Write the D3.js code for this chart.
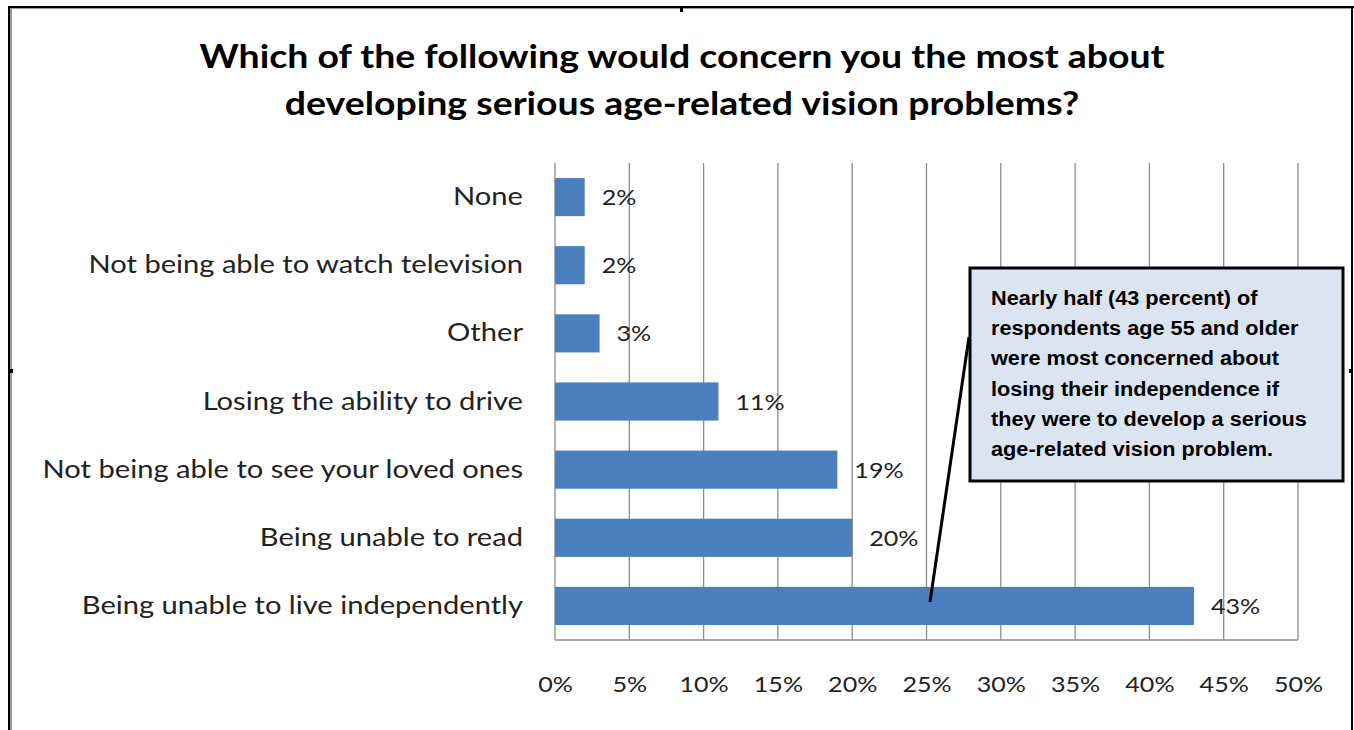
<!DOCTYPE html>
<html><head><meta charset="utf-8">
<script src="https://cdn.jsdelivr.net/npm/d3@7"></script>
<style>body{margin:0;background:#fff;}svg{display:block;}</style>
</head><body>
<script>
const categories = ["None","Not being able to watch television","Other","Losing the ability to drive","Not being able to see your loved ones","Being unable to read","Being unable to live independently"];
const values = [2,2,3,11,19,20,43];
const tickValues = [0,5,10,15,20,25,30,35,40,45,50];
const titleLines = ["Which of the following would concern you the most about","developing serious age-related vision problems?"];
const noteLines = ["Nearly half (43 percent) of","respondents age 55 and older","were most concerned about","losing their independence if","they were to develop a serious","age-related vision problem."];

const W=1354,H=730;
const svg=d3.select("body").append("svg").attr("width",W).attr("height",H);
const font="Lato, 'Open Sans', sans-serif";
const SX=1.165;

// stretch text horizontally around its anchor point
function stretch(sel, sx){
  sel.each(function(){
    const t=d3.select(this);
    const x=+t.attr("x")||0, y=+t.attr("y")||0;
    const prev=t.attr("transform")||"";
    t.attr("x",0).attr("y",0).attr("transform",prev+` translate(${x},${y}) scale(${sx},1)`);
  });
}

// frame
svg.append("rect").attr("x",11).attr("y",8).attr("width",W-2).attr("height",H).attr("fill","none").attr("stroke","#999").attr("stroke-width",2);
svg.append("line").attr("x1",9).attr("x2",9).attr("y1",7).attr("y2",H).attr("stroke","#000").attr("stroke-width",2);
svg.append("line").attr("x1",8).attr("x2",1354).attr("y1",7).attr("y2",7).attr("stroke","#000").attr("stroke-width",2);
svg.append("line").attr("x1",1352).attr("x2",1352).attr("y1",7).attr("y2",H).attr("stroke","#000").attr("stroke-width",2);
svg.append("rect").attr("x",680).attr("y",7).attr("width",3).attr("height",5).attr("fill","#000");
svg.append("rect").attr("x",9).attr("y",369).attr("width",4).attr("height",4).attr("fill","#000");
svg.append("rect").attr("x",1349).attr("y",369).attr("width",4).attr("height",4).attr("fill","#000");

// title
svg.append("g").selectAll("text").data(titleLines).join("text")
  .attr("x",682).attr("y",(d,i)=>68+i*47).attr("text-anchor","middle")
  .attr("font-family",font).attr("font-weight","bold").attr("font-size",32).attr("fill","#000").text(d=>d)
  .call(stretch,1.17);

const x=d3.scaleLinear().domain([0,50]).range([555,1298]);
const y=d3.scaleBand().domain(categories).range([163,640]).paddingInner(0.44).paddingOuter(0.22);

// gridlines
svg.append("g").selectAll("line").data(tickValues).join("line")
  .attr("x1",d=>x(d)).attr("x2",d=>x(d)).attr("y1",163).attr("y2",640)
  .attr("stroke","#8c8c8c").attr("stroke-width",1.3);
svg.append("line").attr("x1",x(0)).attr("x2",x(50)).attr("y1",640).attr("y2",640).attr("stroke","#8c8c8c").attr("stroke-width",1.5);

// x axis labels
const xa=svg.append("g").attr("transform","translate(0,640)")
  .call(d3.axisBottom(x).tickValues(tickValues).tickFormat(d=>d+"%").tickSize(0).tickPadding(36));
xa.select(".domain").remove();
xa.selectAll("text").attr("font-family",font).attr("font-size",22).attr("fill","#222").call(stretch,1.14);

// bars
svg.append("g").selectAll("rect").data(values).join("rect")
  .attr("x",x(0)).attr("y",(d,i)=>y(categories[i])).attr("width",d=>x(d)-x(0)).attr("height",y.bandwidth())
  .attr("fill","#4a80bd");

// value labels
svg.append("g").selectAll("text").data(values).join("text")
  .attr("x",d=>x(d)+17).attr("y",(d,i)=>y(categories[i])+y.bandwidth()/2+8)
  .attr("font-family",font).attr("font-size",22).attr("fill","#222").text(d=>d+"%").call(stretch,1.14);

// category labels
const ya=svg.append("g").attr("transform","translate(555,0)")
  .call(d3.axisLeft(y).tickSize(0).tickPadding(32));
ya.select(".domain").remove();
ya.selectAll("text").attr("font-family",font).attr("font-size",25).attr("fill","#222").call(stretch,SX);

// annotation
svg.append("line").attr("x1",969).attr("y1",337).attr("x2",930).attr("y2",602).attr("stroke","#000").attr("stroke-width",3);
svg.append("rect").attr("x",970).attr("y",268).attr("width",373).attr("height",213)
  .attr("fill","#dbe5f1").attr("stroke","#000").attr("stroke-width",3);
svg.append("g").selectAll("text").data(noteLines).join("text")
  .attr("x",991).attr("y",(d,i)=>305+i*30.2)
  .attr("font-family","'Liberation Sans', Arial, sans-serif").attr("font-weight","bold").attr("font-size",20).attr("fill","#000").text(d=>d)
  .call(stretch,1.085);
</script>
</body></html>
